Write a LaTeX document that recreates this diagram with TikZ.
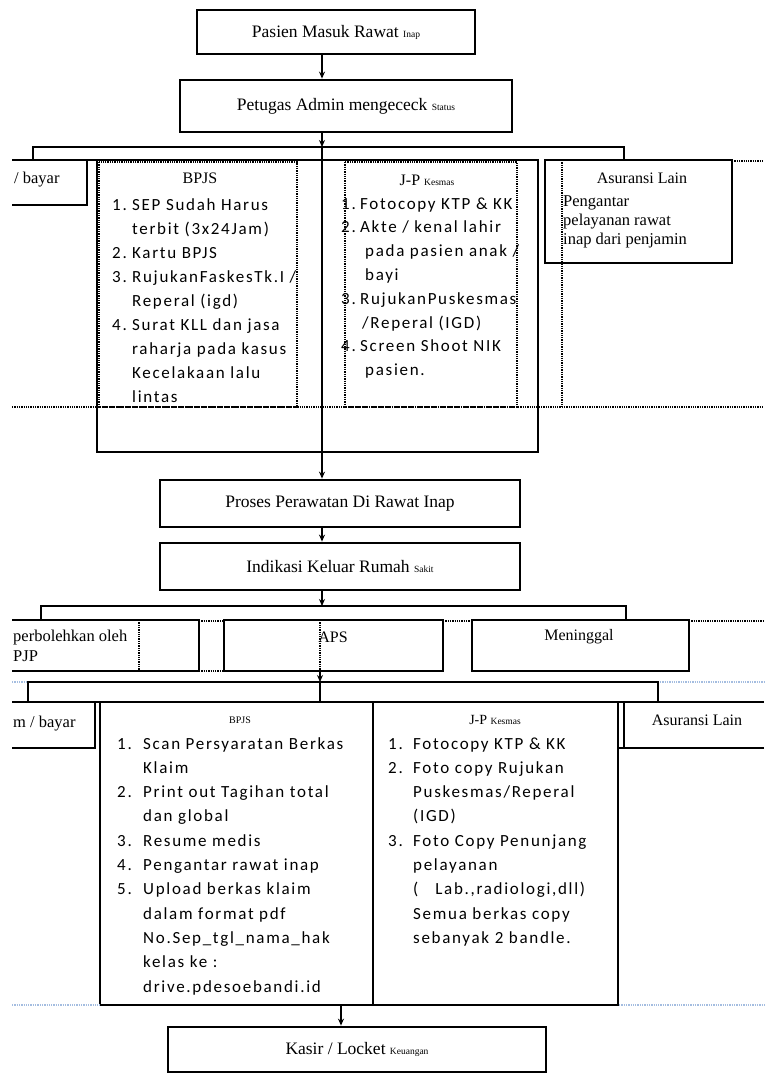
\documentclass[tikz,border=0pt]{standalone}
\usepackage{fontspec}
\setmainfont{Liberation Serif}
\newfontfamily\listfont[LetterSpace=10]{Carlito}
\usetikzlibrary{arrows.meta}
\definecolor{birumuda}{HTML}{A4BDE0}
\newcommand{\kecil}[1]{{\fontsize{9.5}{11}\selectfont #1}}
\newcommand{\nr}[2][20pt]{\makebox[#1][l]{#2}}
\newcommand{\ind}[1][20pt]{\hspace*{#1}}

\begin{document}
\begin{tikzpicture}[x=1pt,y=-1pt,>={Stealth[length=7pt,width=6pt]},
    box/.style={draw,line width=2.8pt,inner sep=0pt},
    ttl/.style={font=\fontsize{17.5}{20}\selectfont},
    judul/.style={font=\fontsize{16}{19}\selectfont,inner sep=0pt},
    teks/.style={font=\fontsize{16.5}{19}\selectfont,inner sep=0pt,anchor=base west},
    lst/.style={font=\listfont\fontsize{17}{20}\selectfont,inner sep=0pt,anchor=base west},
    tebal/.style={line width=2.8pt},
    tipis/.style={line width=1.8pt},
    edge/.style={line width=1.5pt},
    dots/.style={densely dotted,line width=1.3pt},
    bluedots/.style={densely dotted,line width=1.3pt,birumuda}]
    \useasboundingbox (0,0) rectangle (764,1074);

    % masuk
    \node[box,ttl,minimum width=278pt,minimum height=44pt] (pasien) at (336,32) {Pasien Masuk Rawat \kecil{Inap}};
    \node[box,ttl,minimum width=332pt,minimum height=52pt] (petugas) at (346,106) {Petugas Admin mengececk \kecil{Status}};
    \coordinate (tengah) at (322,147);
    \draw[edge,->] (pasien.south -| tengah) -- (petugas.north -| tengah);
    \draw[edge,->] (petugas.south -| tengah) -- (tengah);
    \draw[edge] (33,160) -- (33,147) -- (624,147) -- (624,160);

    % penjamin masuk
    \draw[tebal] (12,160) -- (538,160);
    \draw[tebal] (12,205) -- (87,205) -- (87,160);
    \draw[tebal] (97,160) rectangle (538,452);
    \draw[dots] (99,162) rectangle (297,407);
    \draw[dots] (345,162) rectangle (517,407);
    \node[box,minimum width=187pt,minimum height=103pt] (asrA) at (638.5,211.5) {};
    \draw[dots] (562,160) -- (562,407);
    \draw[dots] (12,407) -- (764,407);
    \draw[dots] (732,161) -- (764,161);

    \node[teks] (bayarA) at (14,183) {/ bayar};
    \node[judul] (bpjsAT) at (200,178) {BPJS};
    \foreach \t [count=\i from 0] in {
        \nr{1.}SEP Sudah Harus,
        \ind terbit (3x24Jam),
        \nr{2.}Kartu BPJS,
        \nr{3.}RujukanFaskesTk.I /,
        \ind Reperal (igd),
        \nr{4.}Surat KLL dan jasa,
        \ind raharja pada kasus,
        \ind Kecelakaan lalu,
        \ind lintas}
        \node[lst] (bpjsA\i) at (112,{210+24.1*\i}) {\t};

    \node[judul] (jpAT) at (427,180) {J-P \kecil{Kesmas}};
    \foreach \t [count=\i from 0] in {
        \nr[19pt]{1.}Fotocopy KTP \& KK,
        \nr[19pt]{2.}Akte / kenal lahir,
        \ind[24pt]pada pasien anak /,
        \ind[24pt]bayi,
        \nr[19pt]{3.}RujukanPuskesmas,
        \ind[21pt]/Reperal (IGD),
        \nr[19pt]{4.}Screen Shoot NIK,
        \ind[24pt]pasien.}
        \node[lst] (jpA\i) at (341,{209+23.8*\i}) {\t};

    \node[judul] (asrAT) at (642,178) {Asuransi Lain};
    \node[teks] (asrA1) at (563,206) {Pengantar};
    \node[teks] (asrA2) at (563,225) {pelayanan rawat};
    \node[teks] (asrA3) at (563,244) {inap dari penjamin};

    % perawatan
    \node[box,ttl,minimum width=360pt,minimum height=47pt] (proses) at (340,503.5) {Proses Perawatan Di Rawat Inap};
    \node[box,ttl,minimum width=360pt,minimum height=47pt] (indikasi) at (340,566.5) {Indikasi Keluar Rumah \kecil{Sakit}};
    \draw[line width=2pt,->] (tengah) -- (proses.north -| tengah);
    \draw[edge,->] (proses.south -| tengah) -- (indikasi.north -| tengah);
    \coordinate (tengahB) at (322,606);
    \draw[edge,->] (indikasi.south -| tengah) -- (tengahB);
    \draw[edge] (41,620) -- (41,606) -- (626,606) -- (626,620);

    % keluar
    \draw[tebal] (12,620) -- (199,620) -- (199,671) -- (12,671);
    \draw[dots] (139,620) -- (139,671);
    \node[box,minimum width=219pt,minimum height=51pt] (aps) at (333.5,645.5) {};
    \node[box,minimum width=217pt,minimum height=51pt] (meninggal) at (580.5,645.5) {};
    \draw[dots] (199,621) -- (224,621) (443,621) -- (472,621) (689,621) -- (764,621) (199,671) -- (224,671);
    \draw[dots] (320,620) -- (320,668);
    \node[teks] (dpjp1) at (13,641) {perbolehkan oleh};
    \node[teks] (dpjp2) at (13,661) {PJP};
    \node[judul] (apsT) at (333,637) {APS};
    \node[judul] (meninggalT) at (579,637) {Meninggal};

    \coordinate (tengahC) at (320,682);
    \draw[edge,->] (320,668) -- (tengahC);
    \draw[edge] (28,702) -- (28,682) -- (658,682) -- (658,702);
    \draw[edge] (tengahC) -- (320,702);
    \draw[bluedots] (12,682) -- (28,682) (660,682) -- (764,682);

    % penjamin keluar
    \draw[tipis] (12,702) -- (764,702);
    \draw[tipis] (12,748) -- (95,748) -- (95,702);
    \node[draw,tipis,inner sep=0pt,minimum width=273pt,minimum height=303pt] (bpjsB) at (236.5,853.5) {};
    \node[draw,tipis,inner sep=0pt,minimum width=245pt,minimum height=303pt] (jpB) at (495.5,853.5) {};
    \draw[tipis] (764,748) -- (624,748) -- (624,702);
    \draw[tipis] (618,748) -- (624,748);
    \draw[bluedots] (12,1005) -- (100,1005) (619,1005) -- (764,1005);

    \node[teks] (bayarB) at (13,727) {m / bayar};
    \node[font=\fontsize{10}{12}\selectfont] (bpjsBT) at (240,720) {BPJS};
    \foreach \t [count=\i from 0] in {
        \nr[26pt]{1.}Scan Persyaratan Berkas,
        \ind[26pt]Klaim,
        \nr[26pt]{2.}Print out Tagihan total,
        \ind[26pt]dan global,
        \nr[26pt]{3.}Resume medis,
        \nr[26pt]{4.}Pengantar rawat inap,
        \nr[26pt]{5.}Upload berkas klaim,
        \ind[26pt]dalam format pdf,
        \ind[26pt]No.Sep\_tgl\_nama\_hak,
        \ind[26pt]kelas ke :,
        \ind[26pt]drive.pdesoebandi.id}
        \node[lst] (bpjsB\i) at (117,{749+24.3*\i}) {\t};

    \node[font=\fontsize{14}{16}\selectfont] (jpBT) at (495,720) {J-P \kecil{Kesmas}};
    \foreach \t [count=\i from 0] in {
        \nr[25pt]{1.}Fotocopy KTP \& KK,
        \nr[25pt]{2.}Foto copy Rujukan,
        \ind[25pt]Puskesmas/Reperal,
        \ind[25pt](IGD),
        \nr[25pt]{3.}Foto Copy Penunjang,
        \ind[25pt]pelayanan,
        \ind[25pt]{(\quad Lab.,radiologi,dll)},
        \ind[25pt]Semua berkas copy,
        \ind[25pt]sebanyak 2 bandle.}
        \node[lst] (jpB\i) at (388,{749+24.3*\i}) {\t};

    \node[judul] (asrBT) at (697,720) {Asuransi Lain};

    % kasir
    \node[box,ttl,minimum width=378pt,minimum height=45pt] (kasir) at (357,1049.5) {Kasir / Locket \kecil{Keuangan}};
    \coordinate (turun) at (341,1005);
    \draw[edge,->] (bpjsB.south -| turun) -- (kasir.north -| turun);
\end{tikzpicture}
\end{document}
